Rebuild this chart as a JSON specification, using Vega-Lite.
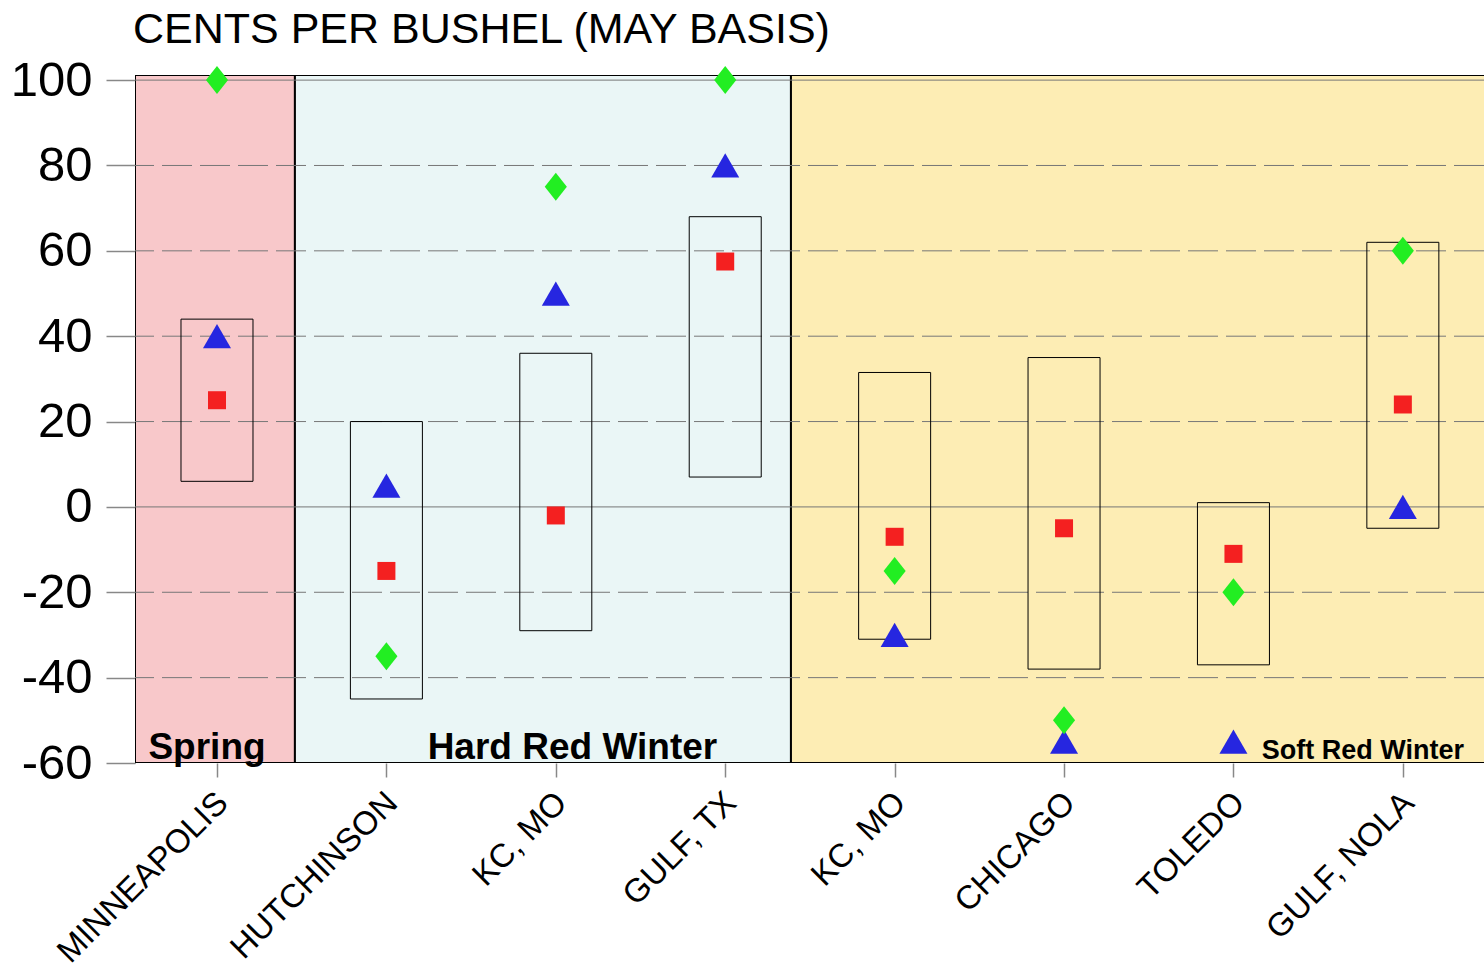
{
  "$schema": "https://vega.github.io/schema/vega-lite/v6.json",
  "width": 1349,
  "height": 688,
  "autosize": {"type": "none"},
  "padding": {"left": 135, "top": 75, "right": 0, "bottom": 205},
  "background": "white",
  "config": {
    "view": {"stroke": null},
    "font": "Liberation Sans"
  },
  "title": {
    "text": "CENTS PER BUSHEL (MAY BASIS)",
    "anchor": "start",
    "frame": "group",
    "font": "Liberation Sans",
    "fontSize": 43,
    "fontWeight": "normal",
    "color": "black",
    "baseline": "alphabetic",
    "offset": 8,
    "dy": 38,
    "dx": -2
  },
  "datasets": {
    "regions": [
      {"region": "Spring", "start": 0.516, "end": 1.46, "labelAt": 0.941, "size": "big"},
      {"region": "Hard Red Winter", "start": 1.46, "end": 4.388, "labelAt": 3.098, "size": "big"},
      {"region": "Soft Red Winter", "start": 4.388, "end": 8.7, "labelAt": 7.764, "size": "small"}
    ],
    "gridlines": [
      {"v": -40}, {"v": -20}, {"v": 0}, {"v": 20}, {"v": 40}, {"v": 60}, {"v": 80}, {"v": 100}
    ],
    "stations": [
      {"pos": 1, "station": "MINNEAPOLIS", "lo": 6, "hi": 44, "square": 25, "triangle": 40, "diamond": 100},
      {"pos": 2, "station": "HUTCHINSON", "lo": -45, "hi": 20, "square": -15, "triangle": 5, "diamond": -35},
      {"pos": 3, "station": "KC, MO", "lo": -29, "hi": 36, "square": -2, "triangle": 50, "diamond": 75},
      {"pos": 4, "station": "GULF, TX", "lo": 7, "hi": 68, "square": 57.5, "triangle": 80, "diamond": 100},
      {"pos": 5, "station": "KC, MO", "lo": -31, "hi": 31.5, "square": -7, "triangle": -30, "diamond": -15},
      {"pos": 6, "station": "CHICAGO", "lo": -38, "hi": 35, "square": -5, "triangle": -55, "diamond": -50},
      {"pos": 7, "station": "TOLEDO", "lo": -37, "hi": 1, "square": -11, "triangle": -55, "diamond": -20},
      {"pos": 8, "station": "GULF, NOLA", "lo": -5, "hi": 62, "square": 24, "triangle": 0, "diamond": 60}
    ]
  },
  "layer": [
    {
      "data": {"name": "regions"},
      "mark": {"type": "rect", "stroke": "black", "strokeWidth": 2, "clip": true},
      "encoding": {
        "x": {
          "field": "start", "type": "quantitative",
          "scale": {"domain": [0.516, 8.479], "nice": false, "zero": false, "padding": 0},
          "axis": {
            "values": [1, 2, 3, 4, 5, 6, 7, 8],
            "title": null,
            "grid": false,
            "domain": false,
            "tickSize": 14,
            "tickColor": "#888888",
            "tickWidth": 1.5,
            "labelExpr": "['MINNEAPOLIS','HUTCHINSON','KC, MO','GULF, TX','KC, MO','CHICAGO','TOLEDO','GULF, NOLA'][datum.value - 1]",
            "labelAngle": -45,
            "labelAlign": "right",
            "labelBaseline": "top",
            "labelFont": "Liberation Sans",
            "labelFontSize": 33,
            "labelColor": "black",
            "labelPadding": 9,
            "labelOffset": -6,
            "labelLimit": 500,
            "labelOverlap": false,
            "labelBound": false,
            "labelFlush": false
          }
        },
        "x2": {"field": "end"},
        "y": {
          "datum": -60, "type": "quantitative",
          "scale": {"domain": [-60, 101.2], "nice": false, "zero": false, "padding": 0},
          "axis": {
            "values": [-60, -40, -20, 0, 20, 40, 60, 80, 100],
            "title": null,
            "grid": false,
            "domain": true,
            "domainColor": "#888888",
            "tickSize": 29,
            "tickColor": "#888888",
            "tickWidth": 1.5,
            "labelExpr": "datum.value + ''",
            "labelFont": "Liberation Sans",
            "labelFontSize": 49,
            "labelColor": "black",
            "labelPadding": 14,
            "labelOverlap": false,
            "labelBound": false,
            "labelFlush": false
          }
        },
        "y2": {"datum": 101.2},
        "color": {
          "field": "region", "type": "nominal",
          "scale": {"domain": ["Spring", "Hard Red Winter", "Soft Red Winter"], "range": ["#f8c8ca", "#eaf6f6", "#fdedb4"]},
          "legend": null
        }
      }
    },
    {
      "data": {"name": "gridlines"},
      "transform": [{"filter": "datum.v !== 0 && datum.v !== 100"}],
      "mark": {"type": "rule", "color": "#777777", "strokeWidth": 1, "strokeDash": [30, 8]},
      "encoding": {"y": {"field": "v", "type": "quantitative"}}
    },
    {
      "data": {"name": "gridlines"},
      "transform": [{"filter": "datum.v === 0 || datum.v === 100"}],
      "mark": {"type": "rule", "color": "#777777", "strokeWidth": 1},
      "encoding": {"y": {"field": "v", "type": "quantitative"}}
    },
    {
      "data": {"name": "regions"},
      "mark": {"type": "text", "fontWeight": "bold", "color": "black", "align": "center", "baseline": "alphabetic", "dy": -4, "font": "Liberation Sans"},
      "encoding": {
        "x": {"field": "labelAt", "type": "quantitative"},
        "y": {"datum": -60},
        "text": {"field": "region"},
        "size": {
          "field": "size", "type": "nominal",
          "scale": {"domain": ["big", "small"], "range": [37, 27]},
          "legend": null
        }
      }
    },
    {
      "data": {"name": "stations"},
      "mark": {"type": "bar", "width": 72, "fill": "transparent", "stroke": "black", "strokeWidth": 1},
      "encoding": {
        "x": {"field": "pos", "type": "quantitative"},
        "y": {"field": "lo", "type": "quantitative"},
        "y2": {"field": "hi"}
      }
    },
    {
      "data": {"name": "stations"},
      "mark": {"type": "point", "shape": "square", "filled": true, "size": 324, "color": "#f42020", "opacity": 1},
      "encoding": {
        "x": {"field": "pos", "type": "quantitative"},
        "y": {"field": "square", "type": "quantitative"}
      }
    },
    {
      "data": {"name": "stations"},
      "mark": {"type": "point", "shape": "triangle-up", "filled": true, "size": 784, "color": "#2626e0", "opacity": 1},
      "encoding": {
        "x": {"field": "pos", "type": "quantitative"},
        "y": {"field": "triangle", "type": "quantitative"}
      }
    },
    {
      "data": {"name": "stations"},
      "mark": {"type": "point", "shape": "M0,-1L0.79,0L0,1L-0.79,0Z", "filled": true, "size": 784, "color": "#22ee22", "opacity": 1},
      "encoding": {
        "x": {"field": "pos", "type": "quantitative"},
        "y": {"field": "diamond", "type": "quantitative"}
      }
    }
  ]
}
